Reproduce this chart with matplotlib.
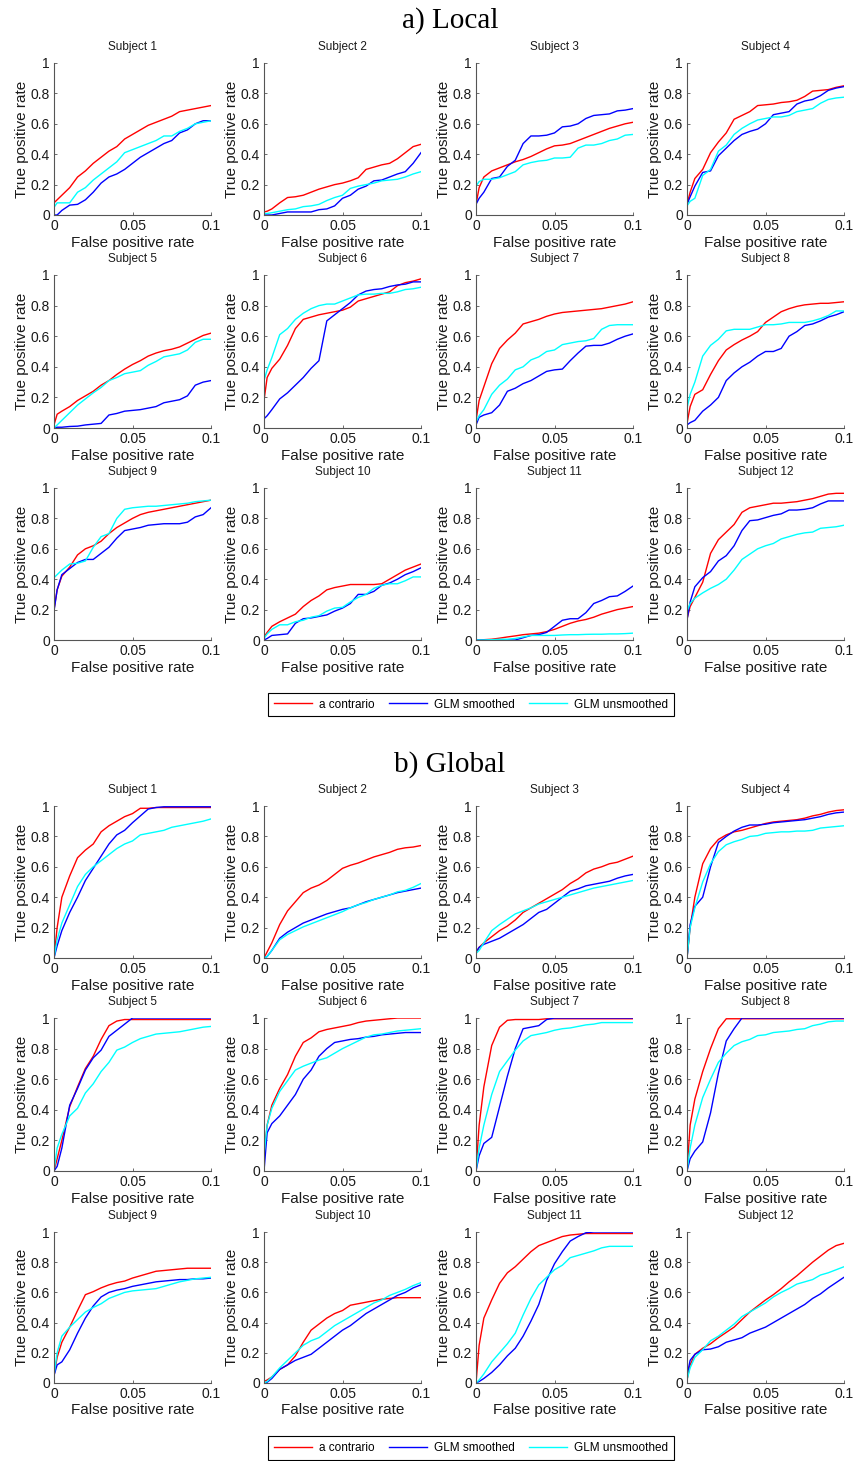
import matplotlib
matplotlib.use("Agg")
import matplotlib.pyplot as plt
from matplotlib.lines import Line2D

plt.rcParams["font.family"] = ["Liberation Sans", "DejaVu Sans"]

# false positive rate grid shared by every curve
FPR = [0, 0.002, 0.005, 0.01, 0.015, 0.02, 0.025, 0.03, 0.035, 0.04, 0.045,
       0.05, 0.055, 0.06, 0.065, 0.07, 0.075, 0.08, 0.085, 0.09, 0.095, 0.1]

SUBJECTS = [f"Subject {i}" for i in range(1, 13)]
METHODS = ["a contrario", "GLM smoothed", "GLM unsmoothed"]

LOCAL_A_CONTRARIO = [
    [0.08, 0.10, 0.13, 0.18, 0.25, 0.29, 0.34, 0.38, 0.42, 0.45, 0.50, 0.53, 0.56, 0.59, 0.61, 0.63, 0.65, 0.68, 0.69, 0.70, 0.71, 0.72],
    [0.02, 0.025, 0.04, 0.08, 0.115, 0.12, 0.13, 0.15, 0.17, 0.185, 0.20, 0.21, 0.225, 0.245, 0.30, 0.315, 0.33, 0.34, 0.37, 0.41, 0.45, 0.465],
    [0.07, 0.18, 0.25, 0.29, 0.31, 0.33, 0.35, 0.365, 0.385, 0.41, 0.435, 0.455, 0.46, 0.47, 0.49, 0.51, 0.53, 0.55, 0.57, 0.585, 0.60, 0.61],
    [0.07, 0.15, 0.24, 0.30, 0.41, 0.48, 0.54, 0.63, 0.655, 0.68, 0.72, 0.725, 0.73, 0.74, 0.745, 0.755, 0.78, 0.815, 0.82, 0.825, 0.84, 0.85],
    [0.02, 0.09, 0.11, 0.14, 0.18, 0.21, 0.24, 0.28, 0.31, 0.35, 0.385, 0.415, 0.44, 0.47, 0.49, 0.505, 0.515, 0.53, 0.555, 0.58, 0.605, 0.62],
    [0.18, 0.33, 0.39, 0.45, 0.54, 0.65, 0.71, 0.725, 0.74, 0.75, 0.76, 0.77, 0.79, 0.83, 0.845, 0.86, 0.875, 0.89, 0.93, 0.95, 0.96, 0.975],
    [0.05, 0.18, 0.27, 0.42, 0.52, 0.575, 0.62, 0.68, 0.695, 0.71, 0.73, 0.745, 0.755, 0.76, 0.765, 0.77, 0.775, 0.78, 0.79, 0.80, 0.81, 0.825],
    [0.03, 0.14, 0.22, 0.25, 0.35, 0.44, 0.51, 0.545, 0.575, 0.60, 0.63, 0.69, 0.725, 0.76, 0.78, 0.795, 0.805, 0.81, 0.815, 0.815, 0.82, 0.825],
    [0.20, 0.33, 0.42, 0.48, 0.56, 0.60, 0.62, 0.65, 0.70, 0.74, 0.77, 0.80, 0.825, 0.84, 0.85, 0.86, 0.87, 0.88, 0.89, 0.90, 0.91, 0.92],
    [0.02, 0.05, 0.09, 0.12, 0.145, 0.17, 0.22, 0.26, 0.29, 0.33, 0.345, 0.355, 0.365, 0.365, 0.365, 0.365, 0.37, 0.40, 0.43, 0.46, 0.48, 0.50],
    [0.0, 0.0, 0.002, 0.005, 0.012, 0.02, 0.027, 0.035, 0.04, 0.045, 0.055, 0.07, 0.09, 0.11, 0.125, 0.135, 0.15, 0.17, 0.185, 0.20, 0.21, 0.22],
    [0.14, 0.22, 0.28, 0.38, 0.57, 0.66, 0.71, 0.76, 0.84, 0.87, 0.88, 0.89, 0.90, 0.90, 0.905, 0.91, 0.92, 0.93, 0.945, 0.96, 0.965, 0.965],
]

LOCAL_GLM_SMOOTHED = [
    [0.0, 0.0, 0.03, 0.065, 0.07, 0.10, 0.15, 0.21, 0.25, 0.27, 0.30, 0.34, 0.38, 0.41, 0.44, 0.47, 0.49, 0.54, 0.56, 0.60, 0.62, 0.62],
    [0.0, 0.0, 0.0, 0.01, 0.02, 0.02, 0.02, 0.02, 0.035, 0.04, 0.06, 0.11, 0.13, 0.17, 0.19, 0.225, 0.23, 0.25, 0.27, 0.285, 0.34, 0.41],
    [0.07, 0.11, 0.15, 0.24, 0.25, 0.32, 0.36, 0.47, 0.52, 0.52, 0.525, 0.54, 0.58, 0.585, 0.60, 0.635, 0.655, 0.66, 0.665, 0.685, 0.69, 0.70],
    [0.07, 0.12, 0.19, 0.28, 0.29, 0.39, 0.44, 0.49, 0.53, 0.55, 0.565, 0.60, 0.66, 0.67, 0.68, 0.73, 0.75, 0.76, 0.785, 0.82, 0.835, 0.845],
    [0.0, 0.005, 0.005, 0.01, 0.012, 0.02, 0.025, 0.03, 0.085, 0.095, 0.11, 0.115, 0.12, 0.13, 0.14, 0.165, 0.175, 0.185, 0.21, 0.28, 0.30, 0.31],
    [0.06, 0.08, 0.12, 0.19, 0.23, 0.28, 0.33, 0.39, 0.44, 0.70, 0.74, 0.78, 0.82, 0.87, 0.895, 0.905, 0.91, 0.925, 0.935, 0.94, 0.955, 0.955],
    [0.02, 0.07, 0.085, 0.10, 0.15, 0.24, 0.26, 0.29, 0.31, 0.34, 0.37, 0.38, 0.385, 0.44, 0.49, 0.535, 0.54, 0.54, 0.555, 0.58, 0.60, 0.615],
    [0.02, 0.035, 0.05, 0.11, 0.15, 0.20, 0.31, 0.36, 0.40, 0.43, 0.47, 0.50, 0.50, 0.52, 0.60, 0.63, 0.67, 0.68, 0.70, 0.725, 0.74, 0.76],
    [0.19, 0.33, 0.43, 0.47, 0.51, 0.53, 0.53, 0.57, 0.61, 0.67, 0.72, 0.73, 0.74, 0.755, 0.76, 0.765, 0.765, 0.765, 0.775, 0.81, 0.825, 0.87],
    [0.0, 0.01, 0.03, 0.035, 0.04, 0.11, 0.14, 0.145, 0.155, 0.165, 0.19, 0.21, 0.24, 0.30, 0.30, 0.32, 0.36, 0.375, 0.40, 0.43, 0.45, 0.475],
    [0.0, 0.0, 0.0, 0.0, 0.0, 0.0, 0.0, 0.015, 0.03, 0.035, 0.05, 0.09, 0.13, 0.14, 0.14, 0.18, 0.24, 0.26, 0.285, 0.29, 0.32, 0.355],
    [0.13, 0.25, 0.35, 0.41, 0.45, 0.52, 0.555, 0.62, 0.72, 0.785, 0.79, 0.805, 0.82, 0.83, 0.855, 0.855, 0.86, 0.87, 0.895, 0.915, 0.915, 0.915],
]

LOCAL_GLM_UNSMOOTHED = [
    [0.05, 0.08, 0.08, 0.08, 0.15, 0.18, 0.23, 0.27, 0.31, 0.35, 0.41, 0.43, 0.45, 0.47, 0.49, 0.52, 0.52, 0.55, 0.57, 0.60, 0.61, 0.62],
    [0.01, 0.01, 0.015, 0.025, 0.035, 0.04, 0.055, 0.06, 0.07, 0.095, 0.115, 0.13, 0.175, 0.19, 0.20, 0.21, 0.225, 0.23, 0.235, 0.25, 0.27, 0.285],
    [0.19, 0.22, 0.235, 0.235, 0.245, 0.265, 0.285, 0.33, 0.345, 0.355, 0.36, 0.375, 0.375, 0.38, 0.44, 0.46, 0.46, 0.47, 0.49, 0.50, 0.525, 0.53],
    [0.06, 0.09, 0.11, 0.26, 0.30, 0.42, 0.46, 0.53, 0.57, 0.60, 0.625, 0.635, 0.645, 0.645, 0.655, 0.68, 0.69, 0.70, 0.735, 0.76, 0.77, 0.775],
    [0.0, 0.02, 0.05, 0.10, 0.15, 0.19, 0.23, 0.265, 0.31, 0.33, 0.355, 0.365, 0.375, 0.41, 0.435, 0.465, 0.475, 0.485, 0.51, 0.56, 0.58, 0.58],
    [0.31, 0.38, 0.46, 0.61, 0.65, 0.71, 0.75, 0.78, 0.80, 0.81, 0.81, 0.83, 0.85, 0.87, 0.875, 0.875, 0.88, 0.88, 0.89, 0.905, 0.91, 0.92],
    [0.04, 0.08, 0.12, 0.22, 0.28, 0.32, 0.38, 0.40, 0.445, 0.465, 0.50, 0.51, 0.545, 0.555, 0.565, 0.57, 0.585, 0.645, 0.67, 0.675, 0.675, 0.675],
    [0.13, 0.22, 0.30, 0.47, 0.54, 0.58, 0.635, 0.645, 0.645, 0.645, 0.66, 0.675, 0.675, 0.68, 0.69, 0.69, 0.69, 0.70, 0.715, 0.735, 0.765, 0.765],
    [0.41, 0.43, 0.46, 0.50, 0.505, 0.52, 0.61, 0.68, 0.70, 0.80, 0.86, 0.87, 0.875, 0.88, 0.88, 0.885, 0.89, 0.895, 0.90, 0.91, 0.915, 0.92],
    [0.01, 0.04, 0.07, 0.10, 0.10, 0.12, 0.13, 0.15, 0.16, 0.19, 0.21, 0.215, 0.25, 0.28, 0.30, 0.34, 0.36, 0.37, 0.37, 0.39, 0.415, 0.415],
    [0.0, 0.0, 0.0, 0.002, 0.005, 0.005, 0.01, 0.02, 0.03, 0.03, 0.03, 0.03, 0.033, 0.035, 0.035, 0.037, 0.038, 0.038, 0.04, 0.04, 0.042, 0.045],
    [0.19, 0.24, 0.275, 0.31, 0.34, 0.365, 0.40, 0.46, 0.53, 0.565, 0.60, 0.62, 0.635, 0.665, 0.68, 0.695, 0.705, 0.71, 0.735, 0.74, 0.745, 0.755],
]

GLOBAL_A_CONTRARIO = [
    [0.0, 0.20, 0.40, 0.54, 0.66, 0.71, 0.75, 0.83, 0.87, 0.90, 0.93, 0.95, 0.985, 0.985, 0.99, 0.99, 0.99, 0.99, 0.99, 0.99, 0.99, 0.99],
    [0.0, 0.04, 0.10, 0.22, 0.31, 0.37, 0.43, 0.46, 0.48, 0.51, 0.55, 0.59, 0.61, 0.625, 0.645, 0.665, 0.68, 0.695, 0.715, 0.725, 0.73, 0.74],
    [0.03, 0.07, 0.10, 0.14, 0.18, 0.21, 0.25, 0.30, 0.33, 0.36, 0.39, 0.42, 0.45, 0.49, 0.52, 0.56, 0.585, 0.60, 0.62, 0.63, 0.65, 0.67],
    [0.0, 0.20, 0.40, 0.62, 0.72, 0.78, 0.81, 0.83, 0.84, 0.855, 0.87, 0.885, 0.895, 0.90, 0.905, 0.91, 0.92, 0.935, 0.945, 0.96, 0.97, 0.975],
    [0.0, 0.08, 0.20, 0.42, 0.55, 0.67, 0.75, 0.86, 0.95, 0.98, 0.99, 0.99, 0.99, 0.99, 0.99, 0.99, 0.99, 0.99, 0.99, 0.99, 0.99, 0.99],
    [0.10, 0.30, 0.43, 0.54, 0.63, 0.75, 0.84, 0.87, 0.91, 0.925, 0.935, 0.945, 0.955, 0.97, 0.98, 0.985, 0.99, 0.995, 1.0, 1.0, 1.0, 1.0],
    [0.0, 0.30, 0.55, 0.82, 0.94, 0.985, 0.99, 0.99, 0.99, 0.99, 0.995, 0.995, 0.995, 0.995, 0.995, 0.995, 0.995, 0.995, 0.995, 0.995, 0.995, 0.995],
    [0.0, 0.30, 0.47, 0.65, 0.80, 0.93, 0.995, 0.995, 0.995, 0.995, 0.995, 0.995, 0.995, 0.995, 0.995, 0.995, 0.995, 0.995, 0.995, 0.995, 0.995, 0.995],
    [0.05, 0.17, 0.27, 0.37, 0.48, 0.585, 0.605, 0.63, 0.65, 0.665, 0.675, 0.695, 0.71, 0.725, 0.74, 0.745, 0.75, 0.755, 0.76, 0.76, 0.76, 0.76],
    [0.01, 0.02, 0.04, 0.09, 0.12, 0.18, 0.27, 0.35, 0.39, 0.43, 0.46, 0.48, 0.515, 0.525, 0.535, 0.545, 0.555, 0.56, 0.565, 0.565, 0.565, 0.565],
    [0.0, 0.25, 0.43, 0.55, 0.66, 0.73, 0.77, 0.82, 0.87, 0.91, 0.93, 0.95, 0.97, 0.98, 0.985, 0.99, 0.99, 0.99, 0.99, 0.99, 0.99, 0.99],
    [0.02, 0.12, 0.19, 0.23, 0.26, 0.30, 0.335, 0.37, 0.42, 0.47, 0.51, 0.55, 0.585, 0.625, 0.67, 0.71, 0.755, 0.80, 0.84, 0.88, 0.91, 0.925],
]

GLOBAL_GLM_SMOOTHED = [
    [0.0, 0.08, 0.18, 0.30, 0.40, 0.51, 0.59, 0.67, 0.75, 0.81, 0.84, 0.89, 0.935, 0.98, 0.99, 0.995, 0.995, 0.995, 0.995, 0.995, 0.995, 0.995],
    [0.0, 0.01, 0.05, 0.13, 0.17, 0.20, 0.23, 0.25, 0.27, 0.29, 0.305, 0.32, 0.33, 0.35, 0.37, 0.385, 0.40, 0.415, 0.43, 0.44, 0.45, 0.46],
    [0.04, 0.07, 0.09, 0.11, 0.13, 0.16, 0.19, 0.22, 0.26, 0.30, 0.32, 0.36, 0.40, 0.44, 0.455, 0.475, 0.485, 0.495, 0.505, 0.525, 0.54, 0.55],
    [0.0, 0.22, 0.34, 0.40, 0.60, 0.76, 0.80, 0.835, 0.86, 0.875, 0.875, 0.88, 0.89, 0.895, 0.90, 0.905, 0.91, 0.92, 0.93, 0.945, 0.955, 0.96],
    [0.0, 0.03, 0.15, 0.43, 0.54, 0.66, 0.74, 0.79, 0.88, 0.92, 0.96, 1.0, 1.0, 1.0, 1.0, 1.0, 1.0, 1.0, 1.0, 1.0, 1.0, 1.0],
    [0.0, 0.25, 0.31, 0.36, 0.43, 0.50, 0.60, 0.66, 0.75, 0.80, 0.84, 0.85, 0.86, 0.865, 0.875, 0.88, 0.89, 0.895, 0.90, 0.905, 0.905, 0.905],
    [0.0, 0.10, 0.18, 0.22, 0.42, 0.62, 0.80, 0.93, 0.94, 0.95, 0.99, 1.0, 1.0, 1.0, 1.0, 1.0, 1.0, 1.0, 1.0, 1.0, 1.0, 1.0],
    [0.0, 0.08, 0.13, 0.19, 0.38, 0.64, 0.85, 0.93, 1.0, 1.0, 1.0, 1.0, 1.0, 1.0, 1.0, 1.0, 1.0, 1.0, 1.0, 1.0, 1.0, 1.0],
    [0.05, 0.12, 0.14, 0.22, 0.33, 0.43, 0.51, 0.57, 0.60, 0.615, 0.625, 0.64, 0.65, 0.66, 0.67, 0.675, 0.68, 0.685, 0.685, 0.69, 0.69, 0.695],
    [0.0, 0.005, 0.03, 0.09, 0.12, 0.15, 0.17, 0.19, 0.23, 0.27, 0.31, 0.35, 0.38, 0.42, 0.46, 0.49, 0.52, 0.55, 0.58, 0.60, 0.63, 0.65],
    [0.0, 0.01, 0.03, 0.07, 0.12, 0.18, 0.23, 0.31, 0.41, 0.52, 0.68, 0.79, 0.87, 0.94, 0.97, 0.995, 1.0, 1.0, 1.0, 1.0, 1.0, 1.0],
    [0.05, 0.15, 0.19, 0.22, 0.225, 0.24, 0.27, 0.285, 0.30, 0.33, 0.35, 0.37, 0.40, 0.43, 0.46, 0.49, 0.52, 0.56, 0.59, 0.63, 0.665, 0.70],
]

GLOBAL_GLM_UNSMOOTHED = [
    [0.0, 0.12, 0.23, 0.35, 0.47, 0.55, 0.60, 0.64, 0.68, 0.72, 0.75, 0.77, 0.81, 0.82, 0.83, 0.84, 0.86, 0.87, 0.88, 0.89, 0.90, 0.915],
    [0.0, 0.01, 0.05, 0.12, 0.155, 0.18, 0.205, 0.225, 0.245, 0.265, 0.285, 0.305, 0.33, 0.35, 0.365, 0.385, 0.40, 0.415, 0.435, 0.445, 0.465, 0.49],
    [0.03, 0.05, 0.10, 0.18, 0.22, 0.255, 0.29, 0.31, 0.33, 0.355, 0.37, 0.385, 0.40, 0.415, 0.43, 0.445, 0.46, 0.47, 0.48, 0.49, 0.50, 0.51],
    [0.0, 0.20, 0.33, 0.50, 0.62, 0.70, 0.745, 0.765, 0.78, 0.80, 0.805, 0.82, 0.825, 0.83, 0.83, 0.835, 0.835, 0.84, 0.855, 0.86, 0.865, 0.87],
    [0.0, 0.15, 0.24, 0.36, 0.41, 0.51, 0.57, 0.65, 0.71, 0.79, 0.81, 0.84, 0.865, 0.88, 0.895, 0.90, 0.905, 0.91, 0.92, 0.93, 0.94, 0.945],
    [0.10, 0.30, 0.41, 0.52, 0.59, 0.66, 0.685, 0.705, 0.725, 0.74, 0.77, 0.80, 0.825, 0.85, 0.875, 0.89, 0.895, 0.905, 0.915, 0.92, 0.925, 0.93],
    [0.0, 0.15, 0.30, 0.50, 0.65, 0.72, 0.79, 0.85, 0.885, 0.895, 0.905, 0.92, 0.93, 0.935, 0.945, 0.955, 0.96, 0.97, 0.97, 0.97, 0.97, 0.97],
    [0.0, 0.15, 0.30, 0.48, 0.60, 0.71, 0.77, 0.82, 0.845, 0.86, 0.885, 0.89, 0.905, 0.91, 0.915, 0.925, 0.93, 0.95, 0.96, 0.975, 0.98, 0.98],
    [0.05, 0.20, 0.31, 0.37, 0.42, 0.47, 0.50, 0.525, 0.56, 0.58, 0.60, 0.61, 0.615, 0.62, 0.625, 0.64, 0.655, 0.67, 0.68, 0.69, 0.695, 0.70],
    [0.0, 0.01, 0.04, 0.10, 0.15, 0.20, 0.25, 0.28, 0.30, 0.34, 0.38, 0.41, 0.44, 0.47, 0.50, 0.53, 0.55, 0.58, 0.60, 0.62, 0.645, 0.665],
    [0.0, 0.02, 0.06, 0.14, 0.20, 0.26, 0.33, 0.45, 0.56, 0.65, 0.70, 0.75, 0.78, 0.83, 0.845, 0.86, 0.875, 0.895, 0.905, 0.905, 0.905, 0.905],
    [0.02, 0.10, 0.17, 0.22, 0.28, 0.31, 0.35, 0.39, 0.44, 0.47, 0.50, 0.53, 0.57, 0.60, 0.625, 0.655, 0.67, 0.685, 0.715, 0.73, 0.75, 0.77],
]

COLORS = ["#ff0000", "#0000ff", "#00ffff"]

W, H = 855, 1461
COL_LEFT = [54, 264, 476, 687]
AX_W = 157
# (top, bottom) pixel rows of each axes row: three local, three global
ROW_PX = [(63, 215), (275, 428), (488, 640), (806, 958), (1018, 1171), (1232, 1383)]


def px_axes(fig, left, top, bottom):
    return fig.add_axes([left / W, 1 - bottom / H, AX_W / W, (bottom - top) / H])


def draw_panel(ax, title, curves):
    for ys, color in zip(curves, COLORS):
        ax.plot(FPR, ys, color=color, lw=1.0)
    ax.set_xlim(0, 0.1)
    ax.set_ylim(0, 1)
    ax.set_xticks([0, 0.05, 0.1])
    ax.set_xticklabels(["0", "0.05", "0.1"])
    ax.set_yticks([0, 0.2, 0.4, 0.6, 0.8, 1])
    ax.set_yticklabels(["0", "0.2", "0.4", "0.6", "0.8", "1"])
    for side in ["top", "right"]:
        ax.spines[side].set_visible(False)
    for side in ["left", "bottom"]:
        ax.spines[side].set_color("#555555")
        ax.spines[side].set_linewidth(0.8)
    ax.tick_params(direction="in", length=2.5, width=0.6, color="#555555",
                   labelsize=10, labelcolor="#1a1a1a", pad=3)
    ax.set_title(title, fontsize=8.5, pad=9, color="#1a1a1a")
    ax.set_xlabel("False positive rate", fontsize=11, color="#1a1a1a")
    ax.set_ylabel("True positive rate", fontsize=11, color="#1a1a1a")
    ax.xaxis.set_label_coords(0.5, -0.135)
    ax.yaxis.set_label_coords(-0.16, 0.5)


def draw_block(fig, rows, red, blue, cyan):
    for i in range(12):
        top, bottom = rows[i // 4]
        ax = px_axes(fig, COL_LEFT[i % 4], top, bottom)
        draw_panel(ax, SUBJECTS[i], [red[i], blue[i], cyan[i]])


def add_legend(fig, y_px):
    handles = [Line2D([], [], color=c, lw=1.0) for c in COLORS]
    leg = fig.legend(handles, METHODS, loc="center", bbox_to_anchor=(471 / W, 1 - y_px / H),
                     ncol=3, fontsize=8.5, frameon=True, fancybox=False, framealpha=1,
                     edgecolor="black", handlelength=3.2, handletextpad=0.6,
                     columnspacing=1.2, borderpad=0.5)
    leg.get_frame().set_linewidth(0.8)


fig = plt.figure(figsize=(W / 100, H / 100), dpi=100)

fig.text(450 / W, 1 - 21 / H, "a) Local", ha="center", va="center",
         fontsize=21, family=["Liberation Serif", "DejaVu Serif"])
draw_block(fig, ROW_PX[:3], LOCAL_A_CONTRARIO, LOCAL_GLM_SMOOTHED, LOCAL_GLM_UNSMOOTHED)
add_legend(fig, 704.5)

fig.text(450 / W, 1 - 765 / H, "b) Global", ha="center", va="center",
         fontsize=21, family=["Liberation Serif", "DejaVu Serif"])
draw_block(fig, ROW_PX[3:], GLOBAL_A_CONTRARIO, GLOBAL_GLM_SMOOTHED, GLOBAL_GLM_UNSMOOTHED)
add_legend(fig, 1448)

fig.savefig("out.png", dpi=100)
